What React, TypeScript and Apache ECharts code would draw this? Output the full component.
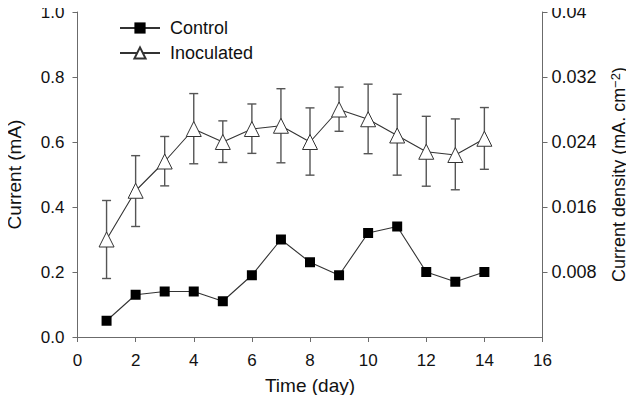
import React, { useEffect, useRef } from "react";
import * as echarts from "echarts";

const days = [1, 2, 3, 4, 5, 6, 7, 8, 9, 10, 11, 12, 13, 14];
const control = [0.05, 0.13, 0.14, 0.14, 0.11, 0.19, 0.30, 0.23, 0.19, 0.32, 0.34, 0.20, 0.17, 0.20];
const inoculated = [0.30, 0.45, 0.54, 0.64, 0.60, 0.64, 0.65, 0.60, 0.70, 0.67, 0.62, 0.57, 0.56, 0.61];
const errLow = [0.18, 0.34, 0.465, 0.533, 0.537, 0.565, 0.536, 0.498, 0.633, 0.564, 0.498, 0.464, 0.453, 0.516];
const errHigh = [0.42, 0.558, 0.617, 0.749, 0.665, 0.717, 0.764, 0.705, 0.769, 0.778, 0.747, 0.679, 0.671, 0.706];

const FONT = "Liberation Sans, Arial, sans-serif";
const AXIS_COLOR = "#6b6b6b";
const LINE_COLOR = "#333";
const TEXT = "#111";

export default function App() {
  const ref = useRef<HTMLDivElement>(null);
  useEffect(() => {
    if (!ref.current) return;
    const chart = echarts.init(ref.current, null, { renderer: "svg" });
    const axisCommon = {
      axisLine: { show: true, lineStyle: { color: AXIS_COLOR, width: 1 } },
      axisTick: { show: true, inside: false, length: 5, lineStyle: { color: AXIS_COLOR } },
      splitLine: { show: false },
    };
    chart.setOption({
      animation: false,
      textStyle: { fontFamily: FONT },
      grid: {
        left: 77.5,
        right: 91.5,
        top: 12,
        bottom: 66,
        containLabel: false,
        outerBoundsMode: "none",
      },
      legend: {
        left: 114,
        top: 14,
        orient: "vertical",
        itemWidth: 40,
        itemHeight: 14,
        itemGap: 7,
        textStyle: { fontSize: 18, color: TEXT, fontFamily: FONT, padding: [0, 0, 0, 5] },
        data: ["Control", "Inoculated"],
      },
      xAxis: {
        type: "value",
        min: 0,
        max: 16,
        interval: 2,
        name: "Time (day)",
        nameLocation: "middle",
        nameGap: 39,
        nameTextStyle: { fontSize: 19, color: TEXT, fontFamily: FONT },
        axisLabel: { fontSize: 17, color: TEXT, margin: 15, fontFamily: FONT },
        ...axisCommon,
      },
      yAxis: [
        {
          type: "value",
          position: "left",
          min: 0,
          max: 1,
          interval: 0.2,
          name: "Current (mA)",
          nameLocation: "middle",
          nameRotate: 90,
          nameGap: 54,
          nameTextStyle: { fontSize: 19, color: TEXT, fontFamily: FONT },
          axisLabel: {
            fontSize: 17,
            color: TEXT,
            margin: 13,
            fontFamily: FONT,
            formatter: (v: number) => v.toFixed(1),
          },
          ...axisCommon,
        },
        {
          type: "value",
          position: "right",
          min: 0,
          max: 0.04,
          interval: 0.008,
          name: "Current density (mA. cm{sup|−2})",
          nameLocation: "middle",
          nameRotate: 90,
          nameGap: 66,
          nameTextStyle: {
            fontSize: 18,
            color: TEXT,
            fontFamily: FONT,
            lineHeight: 20,
            rich: {
              sup: { fontSize: 13, verticalAlign: "top", lineHeight: 20, fontFamily: FONT, color: TEXT },
            },
          },
          axisLabel: {
            fontSize: 18,
            color: TEXT,
            margin: 9,
            fontFamily: FONT,
            showMinLabel: false,
            formatter: (v: number) => (v === 0 ? "" : String(+v.toFixed(3))),
          },
          ...axisCommon,
        },
      ],
      series: [
        {
          type: "custom",
          name: "errors",
          z: 1,
          silent: true,
          data: days.map((d, i) => [d, errLow[i], errHigh[i]]),
          encode: { x: 0, y: [1, 2] },
          renderItem: (params: any, api: any) => {
            const x = api.value(0);
            const lo = api.coord([x, api.value(1)]);
            const hi = api.coord([x, api.value(2)]);
            const cap = 4.5;
            const style = { stroke: "#555", lineWidth: 1.4, fill: null };
            return {
              type: "group",
              children: [
                { type: "line", shape: { x1: lo[0], y1: lo[1], x2: hi[0], y2: hi[1] }, style },
                { type: "line", shape: { x1: lo[0] - cap, y1: lo[1], x2: lo[0] + cap, y2: lo[1] }, style },
                { type: "line", shape: { x1: hi[0] - cap, y1: hi[1], x2: hi[0] + cap, y2: hi[1] }, style },
              ],
            };
          },
        },
        {
          type: "line",
          name: "Control",
          z: 3,
          data: days.map((d, i) => [d, control[i]]),
          symbol: "rect",
          symbolSize: 10,
          lineStyle: { color: LINE_COLOR, width: 1.1 },
          itemStyle: { color: "#000", borderColor: "#000", borderWidth: 0 },
        },
        {
          type: "line",
          name: "Inoculated",
          z: 3,
          data: days.map((d, i) => [d, inoculated[i]]),
          symbol: "triangle",
          symbolSize: 15,
          lineStyle: { color: LINE_COLOR, width: 1.1 },
          itemStyle: { color: "#fff", borderColor: "#333", borderWidth: 1 },
        },
      ],
    });
    return () => chart.dispose();
  }, []);
  return <div ref={ref} style={{ width: 634, height: 403, margin: -8 }} />;
}
